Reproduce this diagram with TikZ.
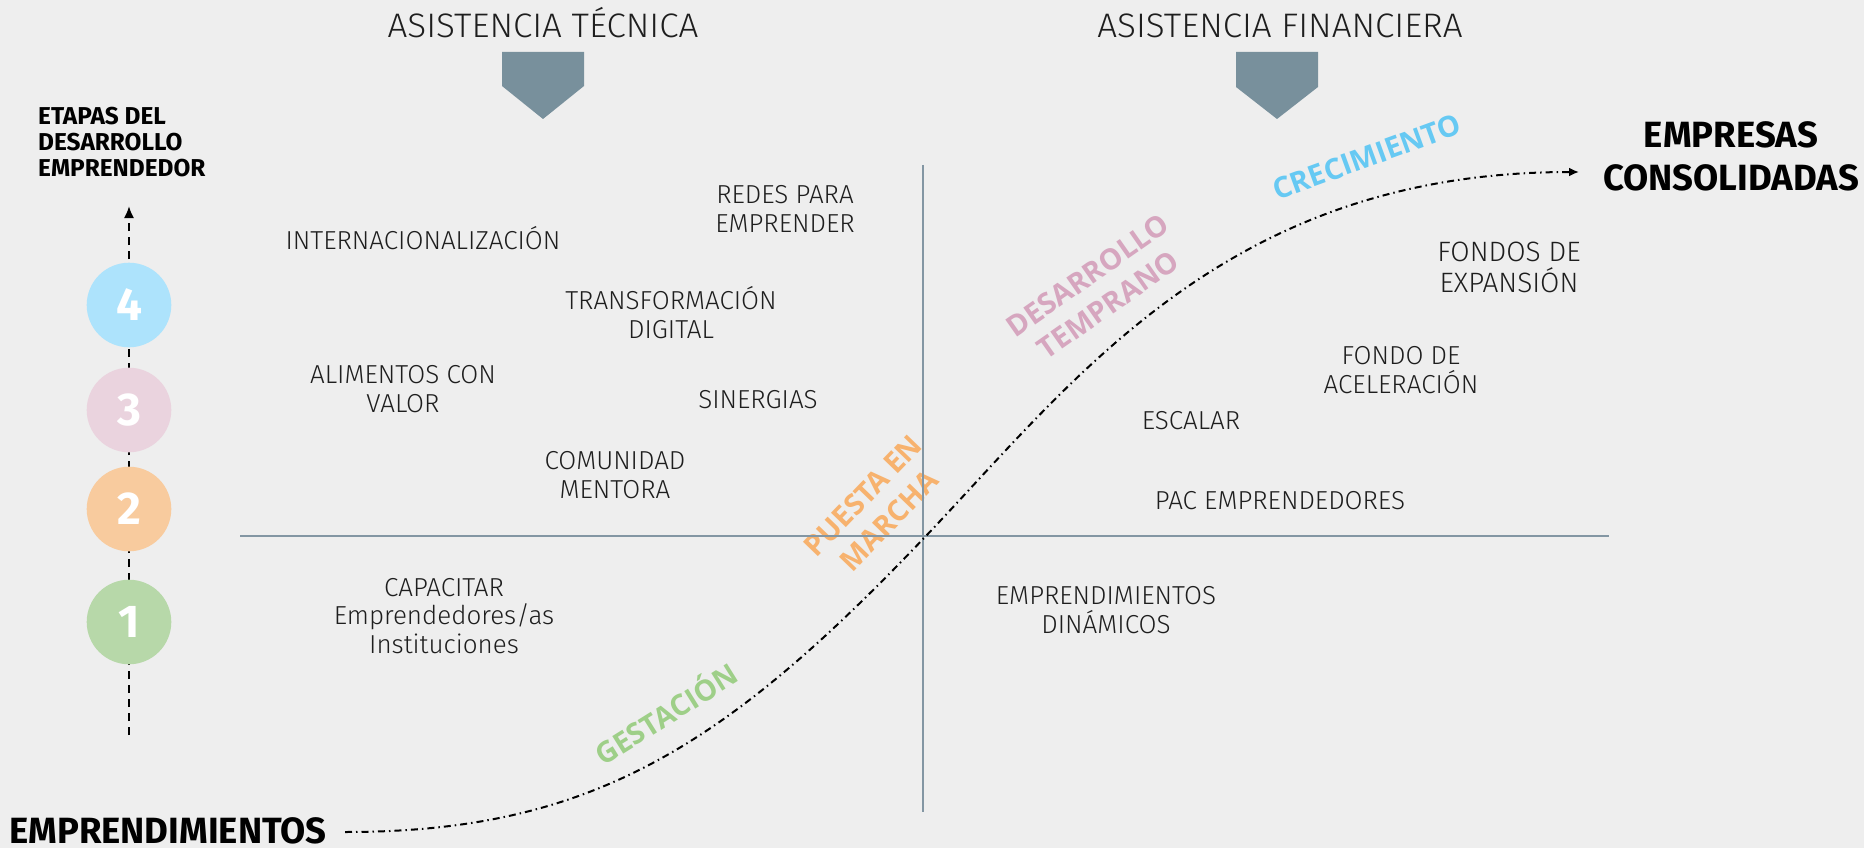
\documentclass[tikz,border=0pt]{standalone}
\usepackage{fontspec}
\usetikzlibrary{arrows.meta}
\newfontfamily\labfont{Fira Sans Light}
\newfontfamily\ttlfont{Fira Sans Light}[FakeStretch=1.03]
\newfontfamily\bldfont{Fira Sans Bold}
\newfontfamily\cndfont{Fira Sans Bold}
\newfontfamily\colfont{Open Sans Bold}
\definecolor{bg}{HTML}{EEEEEE}
\definecolor{ink}{HTML}{1E1E1E}
\definecolor{axisc}{HTML}{8396A3}
\definecolor{pentc}{HTML}{78909C}
\definecolor{cfour}{HTML}{ADE3FC}
\definecolor{cthree}{HTML}{EAD3DE}
\definecolor{ctwo}{HTML}{F8CB9E}
\definecolor{cone}{HTML}{B7D8A9}
\definecolor{tgreen}{HTML}{9ECF88}
\definecolor{torange}{HTML}{F7B26E}
\definecolor{tpink}{HTML}{D6A6BF}
\definecolor{tblue}{HTML}{66C9F3}
\tikzset{
  lab/.style={font=\labfont\fontsize{26}{28.5}\selectfont, text=ink, align=center, anchor=base, inner sep=0pt},
  labbig/.style={font=\labfont\fontsize{28}{31}\selectfont, text=ink, align=center, anchor=base, inner sep=0pt},
  ttl/.style={font=\ttlfont\fontsize{34}{38}\selectfont, text=ink, anchor=base, inner sep=0pt},
  colt/.style={font=\colfont\fontsize{29}{36}\selectfont, align=center, inner sep=0pt},
  bigb/.style={font=\cndfont\fontsize{36.5}{42.5}\selectfont, text=black, align=center, anchor=base, inner sep=0pt},
  etapas/.style={font=\bldfont\fontsize{24.4}{26}\selectfont, text=black, align=left, anchor=base west, inner sep=0pt},
  stage/.style={circle, minimum size=84.6pt, inner sep=0pt, text=white, font=\bldfont\fontsize{46}{46}\selectfont},
  axisline/.style={draw=axisc, line width=2.4pt},
  pent/.style={fill=pentc},
  stagedash/.style={draw=black, line width=2pt, dash pattern=on 8pt off 6pt, -{Latex[length=12pt,width=10pt]}},
  curveline/.style={draw=black, line width=2pt, dash pattern=on 7pt off 4pt on 1.5pt off 4pt, -{Latex[length=10pt,width=9pt]}}
}
\begin{document}
\begin{tikzpicture}[x=1pt,y=-1pt]
\fill[bg] (0,0) rectangle (1864,848);
\useasboundingbox (0,0) rectangle (1864,848);

% titles and pentagons
\node[ttl] (ttec) at (543,38) {ASISTENCIA TÉCNICA};
\node[ttl] (tfin) at (1280,38) {ASISTENCIA FINANCIERA};
\fill[pent] (502,52) -- (584,52) -- (584,86) -- (543,119) -- (502,86) -- cycle;
\fill[pent] (1236,52) -- (1318,52) -- (1318,87) -- (1277,119) -- (1236,87) -- cycle;

% stages column
\node[etapas] (etapas) at (38,177) {ETAPAS DEL\\DESARROLLO\\EMPRENDEDOR};
\coordinate (vb) at (129,735);
\coordinate (vt) at (129,206);
\draw[stagedash] (vb) -- (vt);
\node[stage, fill=cfour] (s4) at (129,305) {4};
\node[stage, fill=cthree] (s3) at (129,410) {3};
\node[stage, fill=ctwo] (s2) at (129,509) {2};
\node[stage, fill=cone] (s1) at (129,622) {1};

% coloured phase labels
\node[colt, text=tgreen, rotate=32] (gest) at (665,712) {GESTACIÓN};
\node[colt, text=torange, rotate=46] (puesta) at (876,508) {PUESTA EN\\MARCHA};
\node[colt, text=tpink, rotate=35] (desa) at (1098,290) {DESARROLLO\\TEMPRANO};
\node[colt, text=tblue, rotate=20] (crec) at (1367,157) {CRECIMIENTO};

% axes
\coordinate (hl) at (240,536);
\coordinate (hr) at (1609,536);
\coordinate (vtop) at (923,165);
\coordinate (vbot) at (923,812);
\draw[axisline] (hl) -- (hr);
\draw[axisline] (vtop) -- (vbot);

% left quadrant labels
\node[lab] (redes) at (785,232) {REDES PARA\\EMPRENDER};
\node[lab] (inter) at (423,249) {INTERNACIONALIZACIÓN};
\node[lab] (trans) at (671,338) {TRANSFORMACIÓN\\DIGITAL};
\node[lab] (alim) at (403,412) {ALIMENTOS CON\\VALOR};
\node[lab] (siner) at (758,408) {SINERGIAS};
\node[lab] (comu) at (615,498) {COMUNIDAD\\MENTORA};
\node[lab] (capa) at (444,653) {CAPACITAR\\Emprendedores/as\\Instituciones};

% right quadrant labels
\node[labbig] (fexp) at (1509,292) {FONDOS DE\\EXPANSIÓN};
\node[lab] (facel) at (1401,393) {FONDO DE\\ACELERACIÓN};
\node[lab] (escal) at (1191,429) {ESCALAR};
\node[lab] (pac) at (1280,509) {PAC EMPRENDEDORES};
\node[lab] (edin) at (1106,633) {EMPRENDIMIENTOS\\DINÁMICOS};

% end labels
\node[bigb] (empr) at (168,843) {EMPRENDIMIENTOS};
\node[bigb] (cons) at (1731,190) {EMPRESAS\\CONSOLIDADAS};

% curve
\coordinate (cs) at (345,832);
\coordinate (ci) at (925,537);
\coordinate (ce) at (1579,172);
\draw[curveline] (cs) .. controls (591,832) and (725,747) .. (ci) .. controls (1075,379.5) and (1227,172) .. (ce);
\end{tikzpicture}
\end{document}
